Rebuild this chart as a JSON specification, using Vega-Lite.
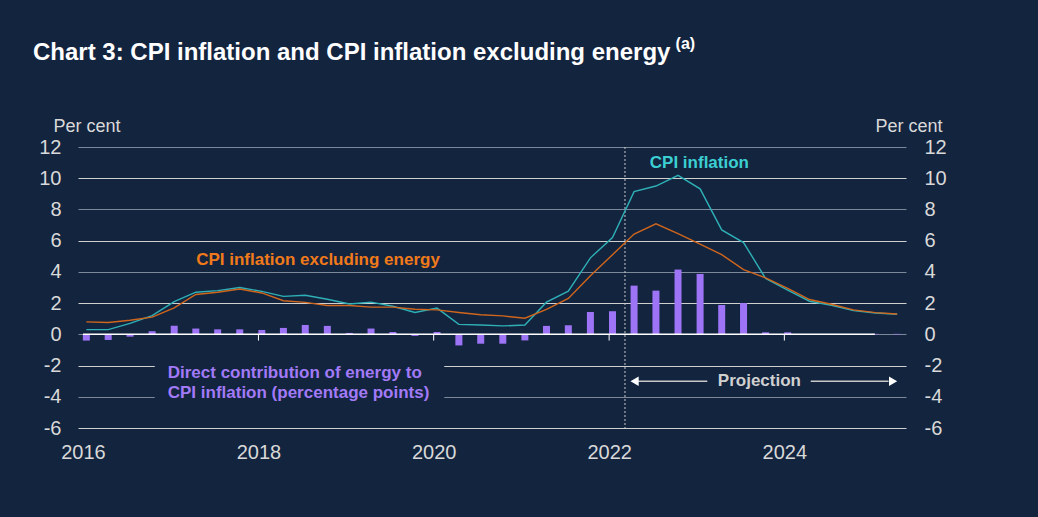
{
  "$schema": "https://vega.github.io/schema/vega-lite/v6.json",
  "width": 828,
  "height": 281,
  "autosize": "none",
  "padding": {"left": 78, "top": 147, "right": 132, "bottom": 89},
  "background": "#13243f",
  "config": {
    "view": {"stroke": null},
    "font": "Liberation Sans",
    "axis": {"labelFont": "Liberation Sans", "titleFont": "Liberation Sans"}
  },
  "title": {
    "text": "Chart 3: CPI inflation and CPI inflation excluding energy",
    "anchor": "start",
    "frame": "group",
    "dx": -45,
    "offset": -29,
    "fontSize": 24,
    "fontWeight": "bold",
    "color": "#ffffff",
    "font": "Liberation Sans"
  },
  "datasets": {
    "series": [
      {"date": "2016-01-15", "cpi": 0.3, "core": 0.8, "energy": -0.4},
      {"date": "2016-04-15", "cpi": 0.3, "core": 0.76, "energy": -0.36},
      {"date": "2016-07-15", "cpi": 0.7, "core": 0.9, "energy": -0.15},
      {"date": "2016-10-15", "cpi": 1.2, "core": 1.1, "energy": 0.2},
      {"date": "2017-01-15", "cpi": 2.1, "core": 1.7, "energy": 0.55},
      {"date": "2017-04-15", "cpi": 2.7, "core": 2.55, "energy": 0.37},
      {"date": "2017-07-15", "cpi": 2.8, "core": 2.7, "energy": 0.32},
      {"date": "2017-10-15", "cpi": 3.0, "core": 2.9, "energy": 0.32},
      {"date": "2018-01-15", "cpi": 2.75, "core": 2.65, "energy": 0.28},
      {"date": "2018-04-15", "cpi": 2.43, "core": 2.15, "energy": 0.41},
      {"date": "2018-07-15", "cpi": 2.5, "core": 2.05, "energy": 0.6},
      {"date": "2018-10-15", "cpi": 2.25, "core": 1.85, "energy": 0.54},
      {"date": "2019-01-15", "cpi": 1.94, "core": 1.85, "energy": 0.09},
      {"date": "2019-04-15", "cpi": 2.06, "core": 1.74, "energy": 0.37},
      {"date": "2019-07-15", "cpi": 1.8, "core": 1.74, "energy": 0.15},
      {"date": "2019-10-15", "cpi": 1.4, "core": 1.61, "energy": -0.1},
      {"date": "2020-01-15", "cpi": 1.68, "core": 1.57, "energy": 0.15},
      {"date": "2020-04-15", "cpi": 0.64, "core": 1.4, "energy": -0.71},
      {"date": "2020-07-15", "cpi": 0.6, "core": 1.25, "energy": -0.6},
      {"date": "2020-10-15", "cpi": 0.54, "core": 1.18, "energy": -0.6},
      {"date": "2021-01-15", "cpi": 0.6, "core": 1.03, "energy": -0.39},
      {"date": "2021-04-15", "cpi": 2.06, "core": 1.6, "energy": 0.54},
      {"date": "2021-07-15", "cpi": 2.77, "core": 2.3, "energy": 0.58},
      {"date": "2021-10-15", "cpi": 4.9, "core": 3.75, "energy": 1.43},
      {"date": "2022-01-15", "cpi": 6.2, "core": 5.1, "energy": 1.48},
      {"date": "2022-04-15", "cpi": 9.14, "core": 6.42, "energy": 3.12},
      {"date": "2022-07-15", "cpi": 9.5, "core": 7.08, "energy": 2.8},
      {"date": "2022-10-15", "cpi": 10.18, "core": 6.45, "energy": 4.15},
      {"date": "2023-01-15", "cpi": 9.32, "core": 5.78, "energy": 3.87},
      {"date": "2023-04-15", "cpi": 6.69, "core": 5.1, "energy": 1.88},
      {"date": "2023-07-15", "cpi": 5.88, "core": 4.15, "energy": 2.0},
      {"date": "2023-10-15", "cpi": 3.58, "core": 3.62, "energy": 0.13},
      {"date": "2024-01-15", "cpi": 2.83, "core": 2.94, "energy": 0.13},
      {"date": "2024-04-15", "cpi": 2.12, "core": 2.23, "energy": 0},
      {"date": "2024-07-15", "cpi": 1.86, "core": 1.93, "energy": 0},
      {"date": "2024-10-15", "cpi": 1.52, "core": 1.57, "energy": 0},
      {"date": "2025-01-15", "cpi": 1.37, "core": 1.39, "energy": 0.03},
      {"date": "2025-04-15", "cpi": 1.29, "core": 1.3, "energy": 0.03}
    ]
  },
  "resolve": {"axis": {"y": "independent"}},
  "layer": [
    {
      "data": {"name": "series"},
      "mark": {"type": "bar", "size": 7, "color": "#9d74f6"},
      "encoding": {
        "x": {
          "field": "date",
          "type": "temporal",
          "title": null,
          "scale": {
            "type": "utc",
            "domain": [
              {"year": 2016, "month": 1, "date": 1, "utc": true},
              {"year": 2025, "month": 5, "date": 1, "utc": true}
            ]
          },
          "axis": {
            "title": null,
            "values": [
              {"year": 2016, "month": 1, "date": 1, "utc": true},
              {"year": 2018, "month": 1, "date": 1, "utc": true},
              {"year": 2020, "month": 1, "date": 1, "utc": true},
              {"year": 2022, "month": 1, "date": 1, "utc": true},
              {"year": 2024, "month": 1, "date": 1, "utc": true}
            ],
            "labelExpr": "utcFormat(datum.value, '%Y')",
            "ticks": false,
            "domain": false,
            "grid": false,
            "labelFontSize": 20,
            "labelColor": "#d9d9d9",
            "labelPadding": 14,
            "labelDx": 3,
            "labelOverlap": false,
            "labelBound": false,
            "labelFlush": false
          }
        },
        "y": {
          "field": "energy",
          "type": "quantitative",
          "scale": {"domain": [-6, 12], "nice": false, "zero": false},
          "axis": {
            "orient": "left",
            "title": "Per cent",
            "titleAngle": 0,
            "titleAlign": "left",
            "titleBaseline": "middle",
            "titleX": -25,
            "titleY": -21,
            "titleFontSize": 18,
            "titleFontWeight": "normal",
            "titleColor": "#d9d9d9",
            "values": [-6, -4, -2, 0, 2, 4, 6, 8, 10, 12],
            "labelExpr": "'' + datum.value",
            "ticks": false,
            "domain": false,
            "labelFontSize": 20,
            "labelColor": "#d9d9d9",
            "labelPadding": 17,
            "grid": true,
            "gridWidth": 1,
            "gridColor": {
              "condition": {"test": "datum.value % 4 === 0", "value": "#7d8899"},
              "value": "#d0d0d0"
            }
          }
        }
      }
    },
    {
      "data": {"values": [{"xs": "2016-10-26", "xe": "2020-02-14", "ys": -1.4, "ye": -4.6}]},
      "mark": {"type": "rect", "color": "#13243f"},
      "encoding": {
        "x": {"field": "xs", "type": "temporal", "title": null},
        "x2": {"field": "xe"},
        "y": {"field": "ys", "type": "quantitative", "axis": null},
        "y2": {"field": "ye"}
      }
    },
    {
      "data": {"values": [{"xs": "2016-01-01", "xe": "2025-01-12", "v": 0}]},
      "mark": {"type": "rule", "color": "#ffffff", "strokeWidth": 1.5},
      "encoding": {
        "x": {"field": "xs", "type": "temporal", "title": null},
        "x2": {"field": "xe"},
        "y": {"field": "v", "type": "quantitative", "axis": null}
      }
    },
    {
      "data": {"values": [{"d": "2018-01-01"}, {"d": "2020-01-01"}, {"d": "2022-01-01"}, {"d": "2024-01-01"}]},
      "mark": {"type": "rule", "color": "#ffffff", "strokeWidth": 1},
      "encoding": {
        "x": {"field": "d", "type": "temporal", "title": null},
        "y": {"datum": 0, "type": "quantitative", "axis": null},
        "y2": {"datum": -0.4}
      }
    },
    {
      "data": {"values": [{"d": "2022-03-08"}]},
      "mark": {"type": "rule", "color": "#c8c8c8", "strokeWidth": 1, "strokeDash": [2, 2]},
      "encoding": {
        "x": {"field": "d", "type": "temporal", "title": null}
      }
    },
    {
      "data": {"name": "series"},
      "mark": {"type": "line", "color": "#2fb0b6", "strokeWidth": 1.4},
      "encoding": {
        "x": {"field": "date", "type": "temporal", "title": null},
        "y": {
          "field": "cpi",
          "type": "quantitative",
          "axis": {
            "orient": "right",
            "title": "Per cent",
            "titleAngle": 0,
            "titleAlign": "left",
            "titleBaseline": "middle",
            "titleX": -31,
            "titleY": -21,
            "titleFontSize": 18,
            "titleFontWeight": "normal",
            "titleColor": "#d9d9d9",
            "values": [-6, -4, -2, 0, 2, 4, 6, 8, 10, 12],
            "labelExpr": "'' + datum.value",
            "ticks": false,
            "domain": false,
            "grid": false,
            "labelFontSize": 20,
            "labelColor": "#d9d9d9",
            "labelPadding": 18
          }
        }
      }
    },
    {
      "data": {"name": "series"},
      "mark": {"type": "line", "color": "#d0661c", "strokeWidth": 1.4},
      "encoding": {
        "x": {"field": "date", "type": "temporal", "title": null},
        "y": {"field": "core", "type": "quantitative", "axis": null}
      }
    },
    {
      "data": {"values": [
        {"xs": "2022-04-15", "xe": "2023-02-14", "v": -3},
        {"xs": "2024-04-20", "xe": "2025-03-10", "v": -3}
      ]},
      "mark": {"type": "rule", "color": "#c8c8c8", "strokeWidth": 1.5},
      "encoding": {
        "x": {"field": "xs", "type": "temporal", "title": null},
        "x2": {"field": "xe"},
        "y": {"field": "v", "type": "quantitative", "axis": null}
      }
    },
    {
      "data": {"values": [
        {"d": "2022-04-17", "v": -3, "s": "triangle-left"},
        {"d": "2025-03-29", "v": -3, "s": "triangle-right"}
      ]},
      "mark": {"type": "point", "filled": true, "color": "#ffffff", "opacity": 1, "size": 90},
      "encoding": {
        "x": {"field": "d", "type": "temporal", "title": null},
        "y": {"field": "v", "type": "quantitative", "axis": null},
        "shape": {"field": "s", "type": "nominal", "scale": null, "legend": null}
      }
    },
    {
      "data": {"values": [
        {"d": "2023-09-19", "v": -3, "t": "Projection", "c": "#d0d0d0"},
        {"d": "2023-01-12", "v": 11, "t": "CPI inflation", "c": "#3ccfd2"},
        {"d": "2018-09-06", "v": 4.74, "t": "CPI inflation excluding energy", "c": "#f07a1a"}
      ]},
      "mark": {"type": "text", "fontSize": 17, "fontWeight": "bold", "baseline": "middle", "align": "center", "font": "Liberation Sans"},
      "encoding": {
        "x": {"field": "d", "type": "temporal", "title": null},
        "y": {"field": "v", "type": "quantitative", "axis": null},
        "text": {"field": "t"},
        "color": {"field": "c", "type": "nominal", "scale": null, "legend": null}
      }
    },
    {
      "data": {"values": [
        {"d": "2016-12-19", "v": -2.48, "t": "Direct contribution of energy to"},
        {"d": "2016-12-19", "v": -3.76, "t": "CPI inflation (percentage points)"}
      ]},
      "mark": {"type": "text", "fontSize": 17, "fontWeight": "bold", "baseline": "middle", "align": "left", "color": "#a27af7", "font": "Liberation Sans"},
      "encoding": {
        "x": {"field": "d", "type": "temporal", "title": null},
        "y": {"field": "v", "type": "quantitative", "axis": null},
        "text": {"field": "t"}
      }
    },
    {
      "data": {"values": [{"d": "2022-10-05", "v": 18.6, "t": "(a)"}]},
      "mark": {"type": "text", "fontSize": 16, "fontWeight": "bold", "baseline": "middle", "align": "left", "color": "#ffffff", "font": "Liberation Sans", "clip": false},
      "encoding": {
        "x": {"field": "d", "type": "temporal", "title": null},
        "y": {"field": "v", "type": "quantitative", "axis": null},
        "text": {"field": "t"}
      }
    }
  ]
}
